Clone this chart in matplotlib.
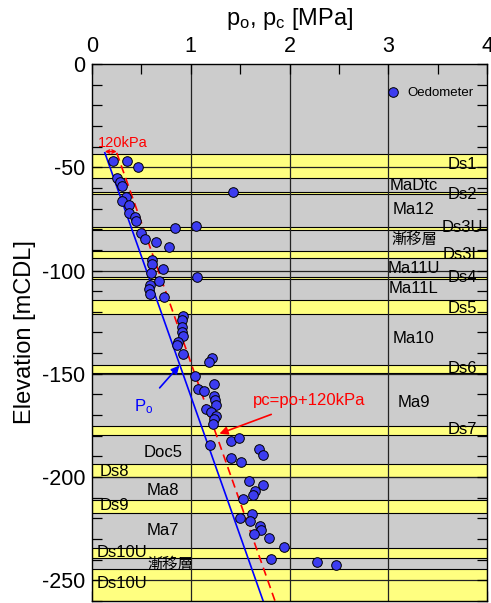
import numpy as np
import matplotlib
matplotlib.use("Agg")
import matplotlib.pyplot as plt

plt.rcParams['font.family'] = ['Liberation Sans', 'Noto Sans CJK JP', 'DejaVu Sans']
plt.rcParams['mathtext.default'] = 'regular'
plt.rcParams['axes.unicode_minus'] = False

# oedometer results: consolidation yield stress [MPa] vs elevation [mCDL]
oed_pc = [0.216, 0.354, 0.469, 0.253, 0.287, 0.30, 0.341, 0.30, 0.374, 0.378,
          0.435, 0.448, 0.84, 1.056, 0.50, 0.536, 0.645, 0.78, 0.607, 0.61,
          0.722, 0.597, 1.063, 0.675, 0.587, 0.58, 0.59, 0.729, 1.43,
          0.924, 0.914, 0.907, 0.914, 0.918, 0.874, 0.857, 0.921, 1.218, 1.184,
          1.042, 1.07, 1.137, 1.235, 1.238, 1.245, 1.252, 1.15, 1.20, 1.252,
          1.238, 1.228, 1.197, 1.404, 1.485, 1.693, 1.731, 1.41, 1.508,
          1.592, 1.728, 1.653, 1.626, 1.532, 1.62, 1.495, 1.60, 1.697, 1.71,
          1.636, 1.795, 1.943, 1.808, 2.28, 2.47]
oed_elev = [-46.8, -46.8, -49.8, -55.0, -57.2, -59.3, -64.2, -66.2, -68.2, -72.2,
            -74.3, -76.2, -79.3, -78.2, -82.0, -84.5, -86.1, -88.5, -94.8, -96.9,
            -99.3, -101.1, -103.0, -105.3, -107.2, -108.8, -111.4, -113.0, -62.2,
            -121.9, -124.1, -127.3, -129.9, -131.5, -134.6, -136.2, -140.6, -142.2, -144.1,
            -151.0, -157.2, -158.5, -154.7, -160.9, -162.8, -165.2, -166.8, -168.4, -170.5,
            -172.1, -174.2, -184.6, -182.6, -181.0, -186.3, -189.1, -190.7, -192.5,
            -202.0, -203.7, -206.8, -208.7, -210.5, -217.8, -219.7, -221.5, -223.9, -225.8,
            -227.6, -229.5, -233.9, -239.7, -241.1, -242.7]

# effective overburden line and pc = po + 120 kPa
po_elev = [-43.0, -262.0]
po_value = [0.13, 1.748]
offset_kpa = 120

# sand layers (yellow bands): name, top, bottom
band_names = ['Ds1', 'Ds2', 'Ds3U', 'Ds3L', 'Ds4', 'Ds5', 'Ds6', 'Ds7',
              'Ds8', 'Ds9', 'Ds10U', 'Ds10U']
band_top = [-43.5, -62.2, -79.0, -90.4, -103.0, -114.4, -145.6, -175.4,
            -193.9, -211.3, -234.2, -244.3]
band_bottom = [-55.0, -62.8, -80.3, -93.7, -104.0, -120.9, -149.6, -179.7,
               -199.9, -217.3, -239.0, -265.0]

# layer labels: text, x, y, horizontal alignment
layer_labels = [
    ('Ds1', 3.75, -48.8, 'center'), ('MaDtc', 3.26, -59.0, 'center'),
    ('Ds2', 3.75, -63.2, 'center'), ('Ma12', 3.26, -70.6, 'center'),
    ('Ds3U', 3.75, -79.2, 'center'), ('漸移層', 3.26, -85.1, 'center'),
    ('Ds3L', 3.75, -92.0, 'center'), ('Ma11U', 3.26, -99.1, 'center'),
    ('Ds4', 3.75, -103.4, 'center'), ('Ma11L', 3.26, -108.8, 'center'),
    ('Ds5', 3.75, -118.2, 'center'), ('Ma10', 3.26, -132.7, 'center'),
    ('Ds6', 3.75, -147.3, 'center'), ('Ma9', 3.26, -163.7, 'center'),
    ('Ds7', 3.75, -177.2, 'center'), ('Doc5', 0.72, -188.3, 'center'),
    ('Ds8', 0.08, -197.1, 'left'), ('Ma8', 0.72, -206.3, 'center'),
    ('Ds9', 0.08, -214.0, 'left'), ('Ma7', 0.72, -225.7, 'center'),
    ('Ds10U', 0.05, -236.6, 'left'), ('漸移層', 0.79, -242.3, 'center'),
    ('Ds10U', 0.05, -251.5, 'left'),
]

fig = plt.figure(figsize=(4.91, 6.03), dpi=100)
ax = fig.add_axes([0.1874, 0.0033, 0.8045, 0.8906])
ax.set_facecolor('#cccccc')

for top, bot in zip(band_top, band_bottom):
    ax.axhspan(bot, top, facecolor='#ffff80', edgecolor='black', lw=0.8, zorder=1)

for xv in [1, 2, 3]:
    ax.axvline(xv, color='#222222', lw=0.9, zorder=1.5)
for yv in [-50, -100, -150, -200, -250]:
    ax.axhline(yv, color='#222222', lw=0.9, zorder=1.5)

for txt, xv, yv, ha in layer_labels:
    fs = 11 if txt == '漸移層' else 12
    ax.text(xv, yv, txt, ha=ha, va='center', fontsize=fs, zorder=3)

po = np.array(po_value)
pc = po + offset_kpa / 1000.0
ax.plot(po, po_elev, color='#0000ff', lw=1.2, zorder=4)
ax.plot(pc, po_elev, color='#ff0000', lw=1.2, ls=(0, (5, 3)), zorder=4)

ax.scatter(oed_pc, oed_elev, s=48, color='#3c3cf0', edgecolor='black',
           linewidth=0.7, zorder=5, label='Oedometer')

# annotations
ax.annotate('', xy=(0.25, -42.4), xytext=(0.13, -42.4),
            arrowprops=dict(arrowstyle='<->', color='red', lw=1.0,
                            mutation_scale=6, shrinkA=0, shrinkB=0), zorder=6)
ax.text(0.31, -38.2, '120kPa', color='red', fontsize=10.5, ha='center', va='center')
ax.annotate('P$_o$', xy=(0.885, -146.0), xytext=(0.52, -165.7),
            color='blue', fontsize=12, ha='center', va='center',
            arrowprops=dict(arrowstyle='-|>', color='blue', lw=1.2,
                            mutation_scale=12, shrinkA=6, shrinkB=0))
ax.annotate('pc=po+120kPa', xy=(1.29, -179.0), xytext=(2.2, -162.8),
            color='red', fontsize=12, ha='center', va='center',
            arrowprops=dict(arrowstyle='-|>', color='red', lw=1.2,
                            mutation_scale=12, shrinkA=8, shrinkB=0))

ax.set_xlim(0, 4)
ax.set_ylim(-260, 0)
ax.xaxis.tick_top()
ax.xaxis.set_label_position('top')
ax.set_xticks([0, 1, 2, 3, 4])
ax.set_xticks(np.arange(0, 4.01, 0.5), minor=True)
ax.set_yticks(np.arange(-250, 1, 50))
ax.set_yticks(np.arange(-260, 1, 10), minor=True)
ax.tick_params(which='both', direction='in', top=True, bottom=False,
               left=True, right=True, labelsize=15.5, pad=5)
ax.tick_params(which='major', length=7, width=0.9)
ax.tick_params(which='minor', length=7, width=0.9)

sec = ax.secondary_xaxis('bottom')
sec.set_xticks(np.arange(0, 4.01, 1 / 3))
sec.tick_params(direction='in', length=7, width=0.9, labelbottom=False)

ax.set_xlabel('p$_o$, p$_c$ [MPa]', fontsize=17, labelpad=8)
ax.set_ylabel('Elevation [mCDL]', fontsize=17, labelpad=4)

ax.legend(loc='upper right', bbox_to_anchor=(0.99, 0.975), frameon=False,
          fontsize=9.5, handletextpad=0.1, borderaxespad=0.3, scatterpoints=1)

for sp in ax.spines.values():
    sp.set_linewidth(1.0)

fig.savefig('out.png', dpi=100)
